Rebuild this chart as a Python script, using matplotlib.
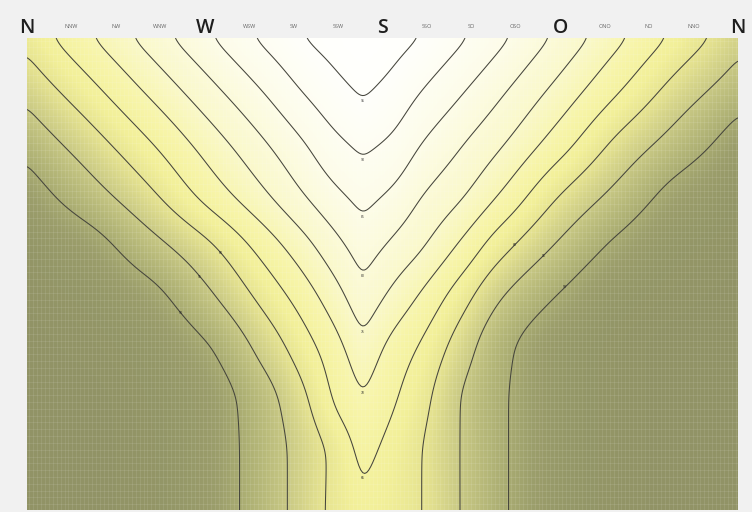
import numpy as np
import matplotlib.pyplot as plt
from matplotlib.colors import LinearSegmentedColormap

# grid columns: azimuth in degrees (0 = south, negative = west, +-180 = north)
azimuth = [-180, -150, -120, -90, -60, -40, -25, -10, 5, 20, 40, 60, 90, 120, 150, 180]
# grid rows: tilt in degrees (0 at the top of the chart)
tilt = [0, 10, 20, 30, 40, 50, 60, 70, 80, 90]

# relative yield in %, one list per tilt row
yield_00 = [61.7, 69.1, 76.6, 84.0, 91.1, 95.0, 97.0, 99.0, 97.0, 94.8, 90.7, 86.1, 78.7, 71.0, 63.5, 56.8]
yield_10 = [56.6, 63.1, 70.4, 77.9, 85.3, 90.3, 93.3, 95.7, 93.4, 90.0, 85.5, 80.8, 73.2, 65.2, 57.8, 52.3]
yield_20 = [51.8, 57.5, 64.2, 71.9, 79.6, 84.8, 88.7, 91.3, 89.1, 85.0, 80.4, 75.6, 67.2, 58.7, 52.8, 48.0]
yield_30 = [47.9, 52.6, 58.5, 66.3, 74.2, 79.8, 83.7, 86.7, 84.1, 80.1, 75.5, 69.5, 59.9, 53.4, 48.4, 46.3]
yield_40 = [46.2, 48.0, 52.6, 58.5, 66.9, 73.0, 77.9, 82.4, 78.9, 75.2, 68.8, 61.6, 54.0, 48.9, 46.4, 45.8]
yield_50 = [45.7, 46.3, 48.2, 53.4, 61.2, 67.1, 72.3, 78.1, 73.4, 68.8, 61.7, 54.9, 49.4, 46.5, 45.8, 45.6]
yield_60 = [45.6, 45.8, 46.5, 49.2, 56.3, 62.4, 67.5, 73.3, 68.1, 63.9, 57.1, 51.2, 47.0, 45.9, 45.6, 45.6]
yield_70 = [45.6, 45.6, 46.1, 47.6, 52.9, 58.8, 64.8, 69.3, 65.4, 61.3, 54.8, 50.6, 46.9, 45.9, 45.6, 45.6]
yield_80 = [45.6, 45.6, 46.0, 47.5, 52.4, 57.0, 61.0, 66.2, 63.2, 60.0, 54.8, 50.6, 46.9, 45.9, 45.6, 45.6]
yield_90 = [45.6, 45.6, 46.0, 47.5, 52.4, 57.0, 61.0, 63.8, 62.3, 60.0, 54.8, 50.6, 46.9, 45.9, 45.6, 45.6]

levels = [50, 55, 60, 65, 70, 75, 80, 85, 90, 95]

directions = ['N', 'NNW', 'NW', 'WNW', 'W', 'WSW', 'SW', 'SSW', 'S',
              'SSO', 'SO', 'OSO', 'O', 'ONO', 'NO', 'NNO', 'N']

RIDGE = 7  # column index of the crest (-10 deg)


def pchip(x, y, xn):
    # monotone cubic (Fritsch-Carlson), keeps the resampled field free of overshoot
    x = np.asarray(x, float)
    y = np.asarray(y, float)
    h = np.diff(x)
    d = np.diff(y) / h
    m = np.zeros_like(y)
    m[0], m[-1] = d[0], d[-1]
    for i in range(1, len(x) - 1):
        if d[i - 1] * d[i] > 0:
            w1 = 2 * h[i] + h[i - 1]
            w2 = h[i] + 2 * h[i - 1]
            m[i] = (w1 + w2) / (w1 / d[i - 1] + w2 / d[i])
    i = np.clip(np.searchsorted(x, xn) - 1, 0, len(x) - 2)
    s = (xn - x[i]) / h[i]
    return ((2 * s ** 3 - 3 * s ** 2 + 1) * y[i] + (s ** 3 - 2 * s ** 2 + s) * h[i] * m[i]
            + (-2 * s ** 3 + 3 * s ** 2) * y[i + 1] + (s ** 3 - s ** 2) * h[i] * m[i + 1])


def refine(az, tl, z):
    fa = np.arange(-180, 181, 1.0)
    ft = np.arange(0, 90.25, 0.5)
    az = np.asarray(az, float)
    west = fa <= az[RIDGE]
    rows = []
    for r in z:
        out = np.empty_like(fa)
        # the two flanks are resampled separately so the crest stays sharp
        out[west] = pchip(az[:RIDGE + 1], r[:RIDGE + 1], fa[west])
        out[~west] = pchip(az[RIDGE:], r[RIDGE:], fa[~west])
        rows.append(out)
    rows = np.array(rows)
    fine = np.array([pchip(tl, c, ft) for c in rows.T]).T
    return fa, ft, fine


def smooth(z, sig, axis):
    r = int(3 * sig)
    x = np.arange(-r, r + 1)
    k = np.exp(-x ** 2 / (2 * sig ** 2))
    k /= k.sum()
    pad = [(0, 0), (0, 0)]
    pad[axis] = (r, r)
    zp = np.pad(z, pad, mode='edge')
    return np.apply_along_axis(lambda v: np.convolve(v, k, mode='valid'), axis, zp)


z = np.array([yield_00, yield_10, yield_20, yield_30, yield_40,
              yield_50, yield_60, yield_70, yield_80, yield_90])
fa, ft, fine = refine(azimuth, tilt, z)
fine = smooth(smooth(fine, 2.5, 1), 3, 0)

vmin, vmax = 45.5, 100.0
stops = [
    (45.5, (0.57, 0.58, 0.40)),
    (48.0, (0.61, 0.62, 0.42)),
    (51.0, (0.69, 0.70, 0.46)),
    (55.0, (0.79, 0.79, 0.52)),
    (59.0, (0.89, 0.88, 0.56)),
    (63.0, (0.95, 0.94, 0.60)),
    (68.0, (0.97, 0.96, 0.66)),
    (75.0, (0.98, 0.975, 0.79)),
    (85.0, (0.993, 0.99, 0.91)),
    (95.0, (1.0, 1.0, 0.985)),
    (100.0, (1.0, 1.0, 1.0)),
]
cmap = LinearSegmentedColormap.from_list(
    'yield', [((v - vmin) / (vmax - vmin), c) for v, c in stops])

fig = plt.figure(figsize=(7.52, 5.12), dpi=100, facecolor='#f1f1f1')
ax = fig.add_axes([27 / 752, 2 / 512, 711 / 752, 472 / 512])

ax.imshow(fine, extent=[-180, 180, 90, 0], origin='upper', aspect='auto',
          cmap=cmap, vmin=vmin, vmax=vmax, interpolation='bilinear')

# fine print texture
for a in np.arange(-179, 180, 2.0):
    ax.axvline(a, color='white', lw=0.5, alpha=0.13)
for t in np.arange(0.5, 90, 1.3):
    ax.axhline(t, color='white', lw=0.5, alpha=0.13)

ax.contour(fa, ft, fine, levels=levels, colors='#45453c', linewidths=0.75)

# small level marks under the V tips
ridge = fine[:, list(fa).index(azimuth[RIDGE])]
for lev in levels:
    if ridge.min() < lev < ridge.max():
        t_tip = np.interp(lev, ridge[::-1], ft[::-1])
        ax.text(azimuth[RIDGE], t_tip + 1.1, str(lev), fontsize=2.2, color='#222222',
                ha='center', va='center')

# level marks on the outer flanks (tilt row where each mark sits)
flank_marks = [(60, 41.0, 'w'), (55, 45.5, 'w'), (50, 52.5, 'w'),
               (60, 39.5, 'e'), (55, 41.5, 'e'), (50, 47.5, 'e')]
for lev, t_mark, side in flank_marks:
    row = fine[int(round(t_mark / 0.5))]
    half = fa <= azimuth[RIDGE] if side == 'w' else fa >= azimuth[RIDGE]
    xs, vs = fa[half], row[half]
    if side == 'e':
        xs, vs = xs[::-1], vs[::-1]
    a_mark = np.interp(lev, vs, xs)
    ax.text(a_mark, t_mark, str(lev), fontsize=2.2, color='#222222',
            ha='center', va='center')

ax.set_xlim(-180, 180)
ax.set_ylim(90, 0)
ax.set_xticks([])
ax.set_yticks([])
for s in ax.spines.values():
    s.set_visible(False)

trans = ax.get_xaxis_transform()
for i, name in enumerate(directions):
    x = -180 + 22.5 * i
    if i % 4 == 0:
        ax.text(x, 1.0106, name, transform=trans, ha='center', va='baseline',
                fontsize=14, family='Open Sans', weight='semibold', color='#1e1e1e')
    else:
        ax.text(x, 1.0222, name, transform=trans, ha='center', va='baseline',
                fontsize=4, family='Open Sans', color='#666666')

fig.savefig('out.png', dpi=100, facecolor=fig.get_facecolor())
